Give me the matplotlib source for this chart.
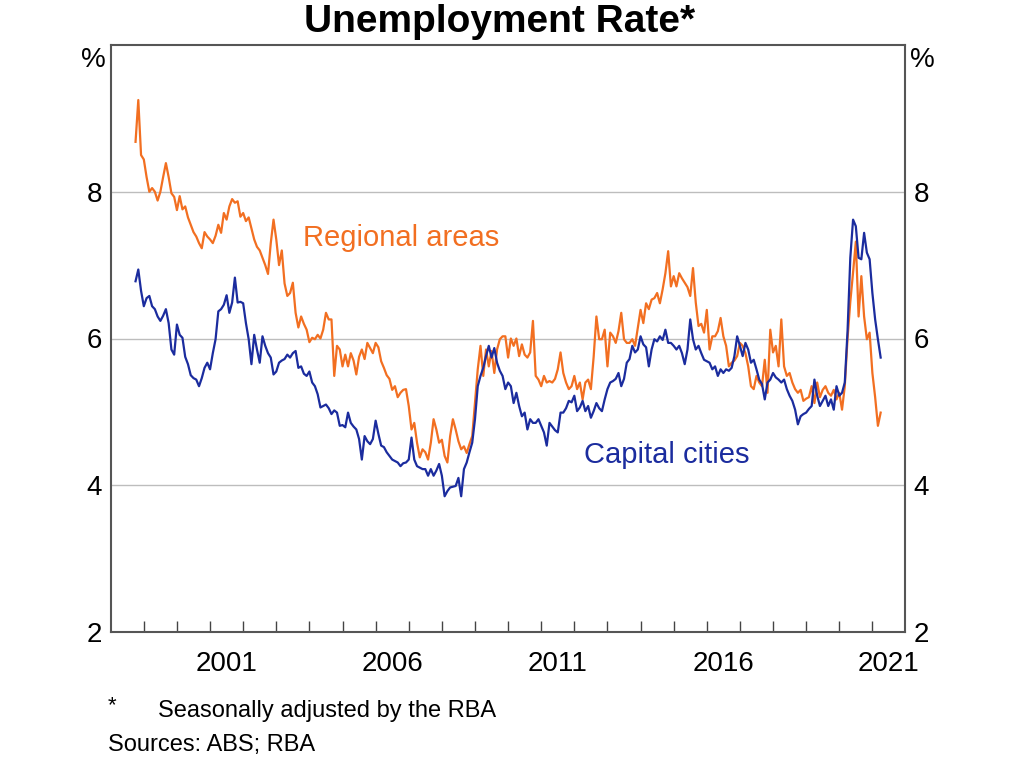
import numpy as np
import matplotlib
matplotlib.use("Agg")
import matplotlib.pyplot as plt

plt.rcParams["font.family"] = ["Liberation Sans", "DejaVu Sans"]

# monthly unemployment rate, Oct 1998 - Apr 2021 (per cent)
regional = [
    8.68, 9.25, 8.50,
    8.44, 8.20, 8.00, 8.05, 8.00, 7.88, 8.00, 8.20, 8.39, 8.20, 7.98, 7.93,
    7.75, 7.94, 7.76, 7.80, 7.65, 7.55, 7.45, 7.39, 7.30, 7.23, 7.45, 7.39,
    7.35, 7.30, 7.40, 7.55, 7.44, 7.71, 7.62, 7.80, 7.90, 7.85, 7.87, 7.66,
    7.71, 7.60, 7.65, 7.50, 7.35, 7.25, 7.20, 7.10, 7.00, 6.88, 7.30, 7.62,
    7.35, 7.00, 7.20, 6.75, 6.58, 6.62, 6.76, 6.35, 6.15, 6.30, 6.20, 6.12,
    5.95, 6.01, 5.99, 6.05, 6.00, 6.12, 6.35, 6.26, 6.26, 5.49, 5.90, 5.85,
    5.62, 5.78, 5.62, 5.80, 5.70, 5.51, 5.75, 5.85, 5.72, 5.94, 5.87, 5.80,
    5.94, 5.88, 5.69, 5.60, 5.50, 5.45, 5.30, 5.35, 5.20, 5.26, 5.30, 5.31,
    5.08, 4.76, 4.85, 4.58, 4.38, 4.49, 4.45, 4.35, 4.58, 4.90, 4.76, 4.58,
    4.62, 4.40, 4.31, 4.67, 4.90, 4.76, 4.60, 4.49, 4.53, 4.44, 4.56, 4.67,
    5.12, 5.58, 5.90, 5.49, 5.85, 5.62, 5.83, 5.53, 5.85, 5.99, 6.03, 6.03,
    5.74, 6.00, 5.90, 6.00, 5.76, 5.92, 5.78, 5.74, 5.81, 6.24, 5.49, 5.44,
    5.35, 5.49, 5.40, 5.42, 5.40, 5.45, 5.58, 5.81, 5.53, 5.40, 5.31, 5.35,
    5.49, 5.31, 5.40, 5.17, 5.40, 5.44, 5.31, 5.75, 6.30, 5.99, 5.99, 6.12,
    5.62, 6.08, 6.03, 5.94, 6.10, 6.35, 5.99, 5.94, 5.94, 5.99, 5.90, 6.15,
    6.39, 6.21, 6.48, 6.40, 6.53, 6.55, 6.62, 6.48, 6.67, 6.89, 7.19, 6.71,
    6.85, 6.71, 6.89, 6.82, 6.76, 6.70, 6.58, 6.96, 6.49, 6.17, 6.20, 6.08,
    6.39, 5.85, 6.03, 6.03, 6.10, 6.28, 6.03, 5.90, 5.62, 5.67, 5.70, 5.76,
    5.94, 5.90, 5.80, 5.62, 5.35, 5.31, 5.49, 5.40, 5.35, 5.71, 5.26, 6.12,
    5.81, 5.90, 5.62, 6.26, 5.62, 5.49, 5.53, 5.40, 5.31, 5.26, 5.30, 5.15,
    5.18, 5.20, 5.35, 5.12, 5.40, 5.20, 5.30, 5.35, 5.26, 5.22, 5.30, 5.17,
    5.26, 5.03, 5.35, 6.00, 6.50, 6.90, 7.32, 6.30, 6.85, 6.30, 5.99, 6.08,
    5.53, 5.20, 4.81, 4.99,
]

capital = [
    6.78, 6.94, 6.65,
    6.44, 6.55, 6.58, 6.44, 6.40, 6.30, 6.24, 6.31, 6.40, 6.21, 5.85, 5.78,
    6.19, 6.05, 6.01, 5.75, 5.65, 5.50, 5.46, 5.44, 5.35, 5.46, 5.60, 5.67,
    5.58, 5.80, 5.99, 6.37, 6.40, 6.46, 6.59, 6.35, 6.49, 6.83, 6.49, 6.50,
    6.48, 6.21, 5.99, 5.65, 6.05, 5.85, 5.67, 6.03, 5.90, 5.80, 5.74, 5.51,
    5.55, 5.67, 5.70, 5.72, 5.78, 5.74, 5.80, 5.83, 5.60, 5.62, 5.52, 5.49,
    5.55, 5.40, 5.35, 5.24, 5.06, 5.08, 5.10, 5.05, 4.97, 5.02, 4.99, 4.81,
    4.82, 4.79, 4.99, 4.85, 4.80, 4.76, 4.63, 4.35, 4.67, 4.60, 4.56, 4.63,
    4.88, 4.70, 4.54, 4.52, 4.45, 4.40, 4.35, 4.33, 4.31, 4.26, 4.30, 4.31,
    4.35, 4.65, 4.35, 4.26, 4.24, 4.22, 4.22, 4.13, 4.22, 4.13, 4.20, 4.29,
    4.13, 3.85, 3.92, 3.97, 3.98, 3.99, 4.10, 3.85, 4.22, 4.31, 4.45, 4.58,
    4.90, 5.35, 5.49, 5.60, 5.76, 5.90, 5.74, 5.87, 5.67, 5.56, 5.49, 5.31,
    5.40, 5.35, 5.12, 5.26, 5.08, 4.94, 4.99, 4.76, 4.90, 4.85, 4.85, 4.90,
    4.81, 4.72, 4.54, 4.85, 4.80, 4.75, 4.72, 4.99, 4.99, 5.05, 5.15, 5.13,
    5.22, 5.01, 5.06, 5.15, 5.01, 5.08, 4.92, 5.01, 5.12, 5.05, 5.01, 5.17,
    5.31, 5.40, 5.42, 5.45, 5.53, 5.35, 5.45, 5.67, 5.72, 5.90, 5.81, 5.85,
    6.03, 5.92, 5.88, 5.62, 5.85, 5.99, 5.96, 6.03, 5.98, 6.12, 5.94, 5.94,
    5.90, 5.85, 5.90, 5.80, 5.65, 5.85, 6.26, 5.99, 5.85, 5.90, 5.80, 5.71,
    5.69, 5.67, 5.58, 5.62, 5.49, 5.58, 5.53, 5.58, 5.56, 5.60, 5.76, 6.03,
    5.90, 5.76, 5.94, 5.85, 5.67, 5.71, 5.58, 5.44, 5.38, 5.17, 5.40, 5.44,
    5.53, 5.47, 5.44, 5.40, 5.44, 5.31, 5.22, 5.15, 5.03, 4.83, 4.94, 4.97,
    4.99, 5.04, 5.08, 5.44, 5.22, 5.08, 5.15, 5.22, 5.08, 5.17, 5.03, 5.35,
    5.22, 5.26, 5.40, 6.10, 7.10, 7.62, 7.53, 7.10, 7.08, 7.44, 7.17, 7.08,
    6.62, 6.26, 5.99, 5.74,
]

year_labels = [2001, 2006, 2011, 2016, 2021]
y_ticks = [2, 4, 6, 8]

ORANGE = "#f26f21"
BLUE = "#1b2c9e"

t = 1998.75 + np.arange(len(regional)) / 12

fig = plt.figure(figsize=(10.23, 7.67), dpi=100)
ax = fig.add_axes([110.7 / 1023, 1 - 632 / 767, 794.8 / 1023, 587 / 767])

ax.plot(t, regional, color=ORANGE, lw=1.6, zorder=3)
ax.plot(t, capital, color=BLUE, lw=1.6, zorder=4)

ax.set_xlim(1998, 2022)
ax.set_ylim(2, 10)

# year ticks at year boundaries, labels centred on the year
ax.set_xticks(np.arange(1999, 2022))
ax.set_xticks([y + 0.5 for y in year_labels], minor=True)
ax.set_xticklabels([str(y) for y in year_labels], minor=True)
ax.tick_params(axis="x", which="major", direction="in", length=8, width=1,
               color="#444444", labelbottom=False)
ax.tick_params(axis="x", which="minor", length=0, pad=14, labelsize=20)

ax.set_yticks(y_ticks)
ax.tick_params(axis="y", length=0, labelsize=20, pad=6,
               labelleft=True, labelright=True)

for v in [4, 6, 8]:
    ax.axhline(v, color="#bdbdbd", lw=1, zorder=1)

for s in ax.spines.values():
    s.set_color("#555555")
    s.set_linewidth(1.5)

ax.text(-0.006, 0.975, "%", transform=ax.transAxes, ha="right", va="center", fontsize=20)
ax.text(1.006, 0.975, "%", transform=ax.transAxes, ha="left", va="center", fontsize=20)

ax.text(2003.8, 7.37, "Regional areas", color=ORANGE, fontsize=21, va="center")
ax.text(2012.3, 4.41, "Capital cities", color=BLUE, fontsize=21, va="center")

fig.text(500 / 1023, 1 - 22 / 767, "Unemployment Rate*", ha="center", va="center",
         fontsize=28, fontweight="bold")
fig.text(108 / 1023, 1 - 706 / 767, "*", ha="left", va="center", fontsize=16)
fig.text(158 / 1023, 1 - 711 / 767, "Seasonally adjusted by the RBA", ha="left",
         va="center", fontsize=17)
fig.text(108 / 1023, 1 - 745 / 767, "Sources: ABS; RBA", ha="left", va="center",
         fontsize=17)

fig.savefig("out.png", dpi=100)
